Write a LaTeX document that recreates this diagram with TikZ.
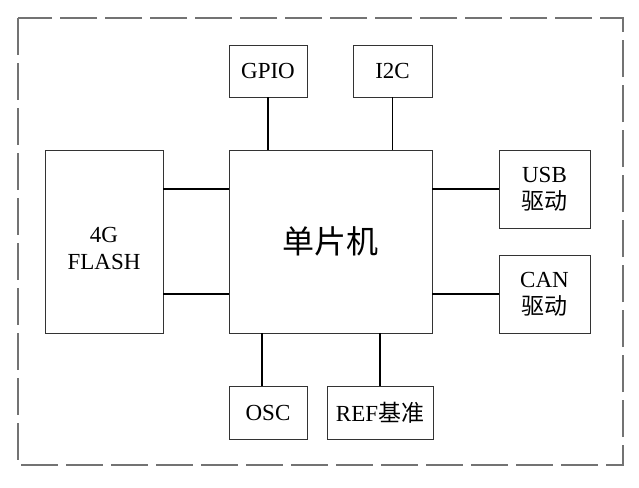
\documentclass[tikz,border=0pt]{standalone}
\usepackage{fontspec}
\setmainfont{Liberation Serif}
\newfontfamily\cjk{Noto Sans CJK SC}
\usetikzlibrary{calc}
\tikzset{
  box/.style={draw=black!80, line width=0.9pt, fill=white, inner sep=0pt, align=center, font=\fontsize{23}{27}\selectfont},
  wire/.style={draw=black, line width=1.4pt},
  frame/.style={draw=black!55, line width=1.1pt, dash pattern=on 37pt off 8pt}
}
\begin{document}
\begin{tikzpicture}[x=1pt,y=-1pt]
\useasboundingbox (0,0) rectangle (639,487);
\draw[frame] (18,18) rectangle (623,465);
\node[box, minimum width=203pt, minimum height=183pt, font=\fontsize{32}{38}\selectfont] (mcu) at (330.5,241.5) {\cjk 单片机};
\node[box, minimum width=78pt, minimum height=52pt] (gpio) at (268,71) {GPIO};
\node[box, minimum width=79pt, minimum height=52pt] (i2c) at (392.5,71) {I2C};
\node[box, minimum width=118pt, minimum height=183pt] (flash) at (104,241.5) {};
\node[font=\fontsize{23}{27}\selectfont, align=center, inner sep=0pt] (flashtext) at (104,248) {4G\\FLASH};
\node[box, minimum width=91pt, minimum height=78pt] (usb) at (544.5,189) {USB\\{\cjk 驱动}};
\node[box, minimum width=91pt, minimum height=78pt] (can) at (544.5,294) {CAN\\{\cjk 驱动}};
\node[box, minimum width=78pt, minimum height=53pt] (osc) at (268,412.5) {OSC};
\node[box, minimum width=106pt, minimum height=53pt] (ref) at (380,412.5) {REF{\cjk 基准}};
\coordinate (oscA) at ($(osc.north)+(-6,0)$);
\draw[wire] (gpio.south) -- (gpio.south |- mcu.north);
\draw[wire] (i2c.south) -- (i2c.south |- mcu.north);
\draw[wire] (oscA) -- (oscA |- mcu.south);
\draw[wire] (ref.north) -- (ref.north |- mcu.south);
\draw[wire] (usb.west) -- (usb.west -| mcu.east);
\draw[wire] (can.west) -- (can.west -| mcu.east);
\draw[wire] (mcu.west |- usb.west) -- (flash.east |- usb.west);
\draw[wire] (mcu.west |- can.west) -- (flash.east |- can.west);
\end{tikzpicture}
\end{document}
